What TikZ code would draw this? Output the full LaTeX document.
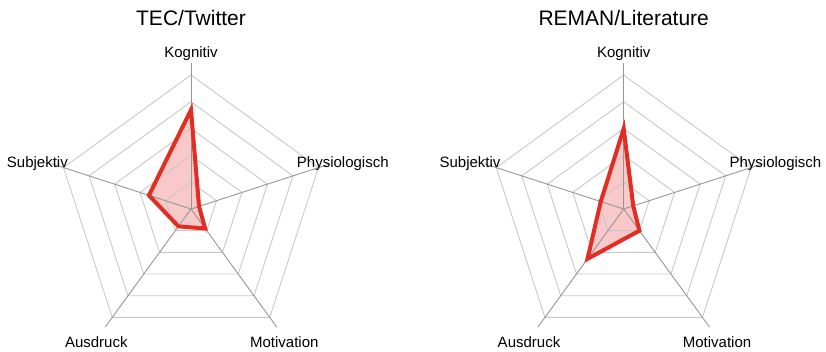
\documentclass[tikz,border=0pt]{standalone}
\usepackage{fontspec}
\setmainfont{Liberation Sans}
\definecolor{ringgray}{RGB}{200,200,200}
\definecolor{axisgray}{RGB}{150,150,150}
\definecolor{datared}{RGB}{226,45,35}
\definecolor{datafill}{RGB}{249,200,200}

\begin{document}
\begin{tikzpicture}[x=1pt,y=1pt,
    ring/.style={ringgray,line width=0.9pt},
    spoke/.style={axisgray,line width=0.9pt},
    series/.style={datared,line width=4pt,line join=miter},
    axislabel/.style={font=\fontsize{15}{18}\selectfont,inner sep=0pt},
    charttitle/.style={font=\fontsize{21}{25}\selectfont,inner sep=0pt}]
\useasboundingbox (0,0) rectangle (826,351);
% charts

\foreach \cx/\id/\ttl/\kog/\phy/\mot/\aus/\sub in
  {191/tec/{TEC/Twitter}/0.74/0.063/0.18/0.16/0.33,
   623.7/reman/{REMAN/Literature}/0.60/0.075/0.20/0.46/0.18}
{
  \begin{scope}[shift={(\cx,142)}]
    \fill[datafill] (90:134*\kog) -- (18:134*\phy) -- (-54:134*\mot)
      -- (234:134*\aus) -- (162:134*\sub) -- cycle;
    \foreach \r in {1,...,5}
      \draw[ring] (90:26.8*\r) -- (18:26.8*\r) -- (-54:26.8*\r)
        -- (234:26.8*\r) -- (162:26.8*\r) -- cycle;
    \foreach \a in {90,18,-54,234,162}
      \draw[spoke] (0,0) -- (\a:146);
    \draw[series] (90:134*\kog) -- (18:134*\phy) -- (-54:134*\mot)
      -- (234:134*\aus) -- (162:134*\sub) -- cycle;

    \node[charttitle, anchor=base] (\id-title) at (0,183) {\ttl};
    \node[axislabel, anchor=base] (\id-kog) at (0,151.3) {Kognitiv};
    \node[axislabel, anchor=base east] (\id-sub) at (-123,41) {Subjektiv};
    \node[axislabel, anchor=base west] (\id-phy) at (105.7,41) {Physiologisch};
    \node[axislabel, anchor=base] (\id-aus) at (-94.7,-138.6) {Ausdruck};
    \node[axislabel, anchor=base] (\id-mot) at (93.3,-138.6) {Motivation};
  \end{scope}
}
\end{tikzpicture}
\end{document}
